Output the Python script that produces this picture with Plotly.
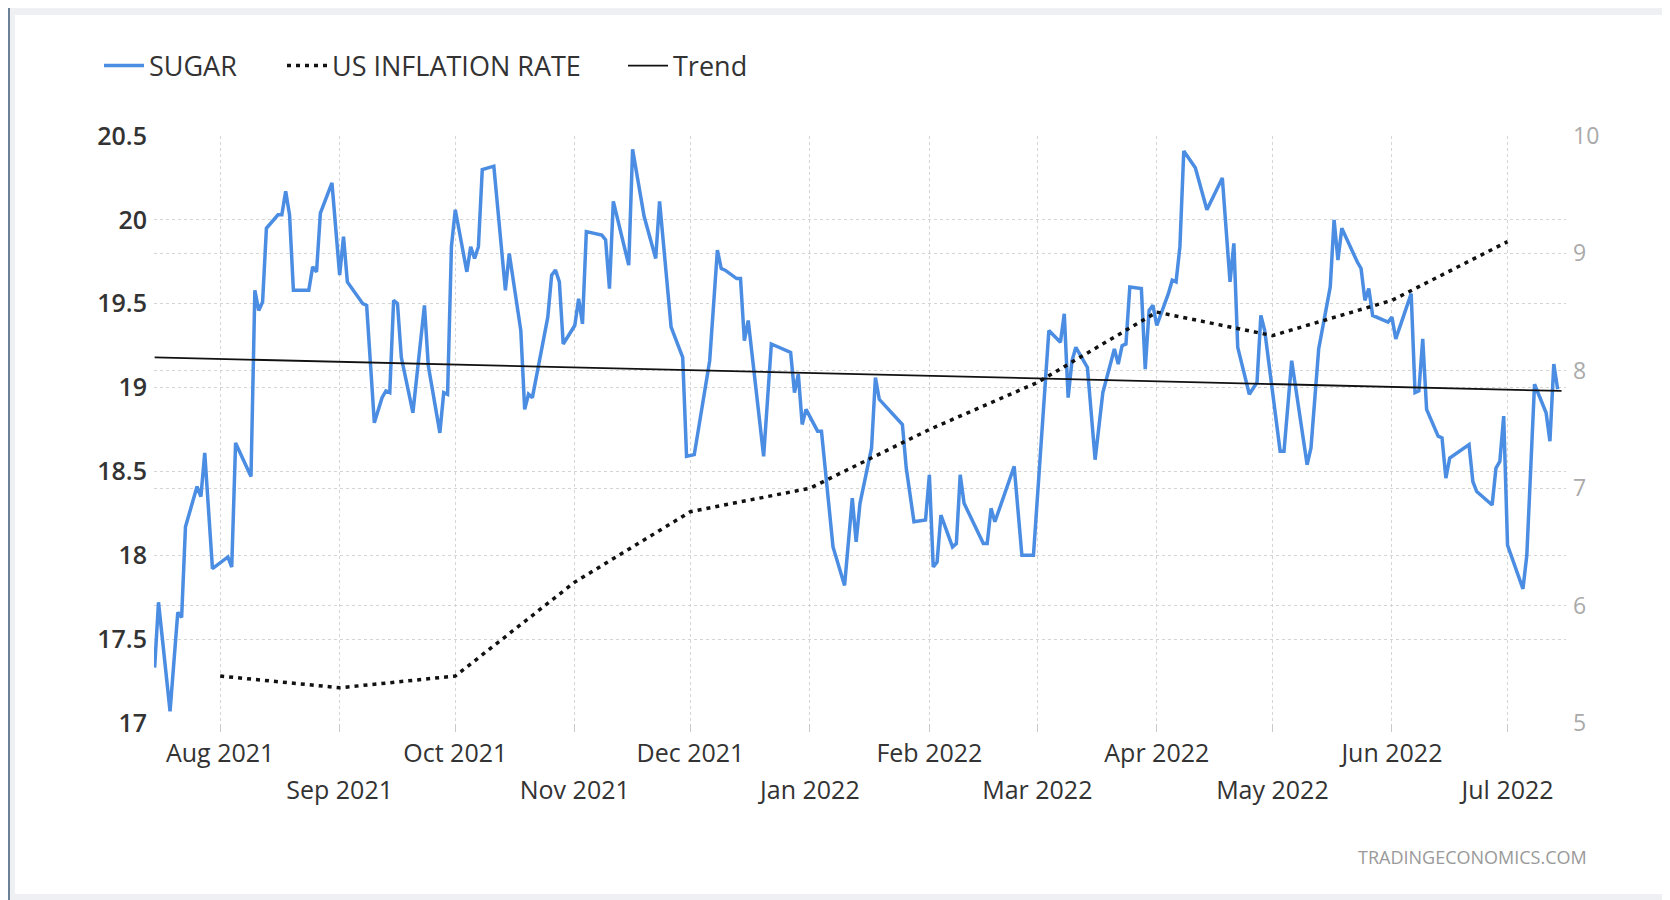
import plotly.graph_objects as go

sugar_dates = [
    "2021-07-15", "2021-07-16", "2021-07-19", "2021-07-21", "2021-07-22", "2021-07-23",
    "2021-07-26", "2021-07-27", "2021-07-28", "2021-07-30", "2021-08-03", "2021-08-04",
    "2021-08-05", "2021-08-09", "2021-08-10", "2021-08-11", "2021-08-12", "2021-08-13",
    "2021-08-16", "2021-08-17", "2021-08-18", "2021-08-19", "2021-08-20", "2021-08-24",
    "2021-08-25", "2021-08-26", "2021-08-27", "2021-08-30", "2021-09-01", "2021-09-02",
    "2021-09-03", "2021-09-07", "2021-09-08", "2021-09-10", "2021-09-12", "2021-09-13",
    "2021-09-14", "2021-09-15", "2021-09-16", "2021-09-17", "2021-09-20", "2021-09-23",
    "2021-09-24", "2021-09-27", "2021-09-28", "2021-09-29", "2021-09-30", "2021-10-01",
    "2021-10-04", "2021-10-05", "2021-10-06", "2021-10-07", "2021-10-08", "2021-10-11",
    "2021-10-14", "2021-10-15", "2021-10-18", "2021-10-19", "2021-10-20", "2021-10-21",
    "2021-10-25", "2021-10-26", "2021-10-27", "2021-10-28", "2021-10-29", "2021-11-01",
    "2021-11-02", "2021-11-03", "2021-11-04", "2021-11-08", "2021-11-09", "2021-11-10",
    "2021-11-11", "2021-11-15", "2021-11-16", "2021-11-19", "2021-11-22", "2021-11-23",
    "2021-11-26", "2021-11-29", "2021-11-30", "2021-12-02", "2021-12-06", "2021-12-08",
    "2021-12-09", "2021-12-10", "2021-12-13", "2021-12-14", "2021-12-15", "2021-12-16",
    "2021-12-20", "2021-12-22", "2021-12-27", "2021-12-28", "2021-12-29", "2021-12-30",
    "2021-12-31", "2022-01-03", "2022-01-04", "2022-01-05", "2022-01-07", "2022-01-10",
    "2022-01-12", "2022-01-13", "2022-01-14", "2022-01-17", "2022-01-18", "2022-01-19",
    "2022-01-25", "2022-01-26", "2022-01-28", "2022-01-31", "2022-02-01", "2022-02-02",
    "2022-02-03", "2022-02-04", "2022-02-07", "2022-02-08", "2022-02-09", "2022-02-10",
    "2022-02-15", "2022-02-16", "2022-02-17", "2022-02-18", "2022-02-23", "2022-02-25",
    "2022-02-28", "2022-03-04", "2022-03-07", "2022-03-08", "2022-03-09", "2022-03-10",
    "2022-03-11", "2022-03-14", "2022-03-16", "2022-03-18", "2022-03-21", "2022-03-22",
    "2022-03-23", "2022-03-24", "2022-03-25", "2022-03-28", "2022-03-29", "2022-03-30",
    "2022-03-31", "2022-04-01", "2022-04-04", "2022-04-05", "2022-04-06", "2022-04-07",
    "2022-04-08", "2022-04-11", "2022-04-14", "2022-04-18", "2022-04-20", "2022-04-21",
    "2022-04-22", "2022-04-25", "2022-04-27", "2022-04-28", "2022-04-29", "2022-05-03",
    "2022-05-04", "2022-05-06", "2022-05-10", "2022-05-11", "2022-05-13", "2022-05-16",
    "2022-05-17", "2022-05-18", "2022-05-19", "2022-05-23", "2022-05-24", "2022-05-25",
    "2022-05-26", "2022-05-27", "2022-05-31", "2022-06-01", "2022-06-02", "2022-06-06",
    "2022-06-07", "2022-06-08", "2022-06-09", "2022-06-10", "2022-06-13", "2022-06-14",
    "2022-06-15", "2022-06-16", "2022-06-21", "2022-06-22", "2022-06-23", "2022-06-27",
    "2022-06-28", "2022-06-29", "2022-06-30", "2022-07-01", "2022-07-05", "2022-07-06",
    "2022-07-08", "2022-07-11", "2022-07-12", "2022-07-13", "2022-07-14",
]
sugar_values = [
    17.33, 17.72, 17.07, 17.66, 17.63, 18.17,
    18.41, 18.35, 18.61, 17.92, 17.99, 17.93,
    18.67, 18.47, 19.58, 19.46, 19.51, 19.95,
    20.03, 20.03, 20.17, 20.03, 19.58, 19.58,
    19.72, 19.69, 20.04, 20.22, 19.67, 19.90,
    19.63, 19.50, 19.49, 18.79, 18.94, 18.98,
    18.97, 19.52, 19.50, 19.18, 18.85, 19.49,
    19.13, 18.73, 18.97, 18.96, 19.84, 20.06,
    19.69, 19.84, 19.77, 19.84, 20.30, 20.32,
    19.58, 19.80, 19.34, 18.87, 18.96, 18.94,
    19.42, 19.67, 19.70, 19.63, 19.26, 19.37,
    19.53, 19.38, 19.93, 19.91, 19.88, 19.59,
    20.11, 19.73, 20.42, 20.02, 19.77, 20.11,
    19.36, 19.18, 18.59, 18.60, 19.16, 19.82,
    19.71, 19.70, 19.65, 19.65, 19.28, 19.40,
    18.59, 19.26, 19.21, 18.97, 19.08, 18.78,
    18.87, 18.74, 18.74, 18.52, 18.05, 17.82,
    18.34, 18.08, 18.31, 18.64, 19.06, 18.93,
    18.78, 18.52, 18.20, 18.21, 18.48, 17.93,
    17.96, 18.24, 18.05, 18.07, 18.48, 18.31,
    18.07, 18.07, 18.28, 18.20, 18.53, 18.00,
    18.00, 19.34, 19.27, 19.44, 18.94, 19.16,
    19.24, 19.12, 18.57, 18.97, 19.23, 19.14,
    19.25, 19.26, 19.60, 19.59, 19.11, 19.46,
    19.49, 19.37, 19.56, 19.64, 19.63, 19.84,
    20.41, 20.31, 20.06, 20.25, 19.63, 19.86,
    19.24, 18.96, 19.03, 19.43, 19.34, 18.62,
    18.62, 19.16, 18.54, 18.64, 19.23, 19.60,
    20.00, 19.76, 19.95, 19.75, 19.71, 19.52,
    19.59, 19.43, 19.39, 19.42, 19.29, 19.56,
    18.97, 18.98, 19.29, 18.87, 18.71, 18.70,
    18.46, 18.58, 18.66, 18.44, 18.38, 18.30,
    18.52, 18.56, 18.83, 18.06, 17.80, 18.00,
    19.02, 18.85, 18.68, 19.14, 18.99,
]

inflation_dates = ["2021-08-01", "2021-09-01", "2021-10-01", "2021-11-01", "2021-12-01", "2022-01-01",
                   "2022-02-01", "2022-03-01", "2022-04-01", "2022-05-01", "2022-06-01", "2022-07-01"]
inflation_values = [5.4, 5.3, 5.4, 6.2, 6.8, 7.0, 7.5, 7.9, 8.5, 8.3, 8.6, 9.1]

trend_dates = ["2021-07-15", "2022-07-15"]
trend_values = [19.18, 18.98]

# month ticks are split into two label rows like the original
row1_ticks = ["2021-08-01", "2021-10-01", "2021-12-01", "2022-02-01", "2022-04-01", "2022-06-01"]
row1_labels = ["Aug 2021", "Oct 2021", "Dec 2021", "Feb 2022", "Apr 2022", "Jun 2022"]
row2_ticks = ["2021-09-01", "2021-11-01", "2022-01-01", "2022-03-01", "2022-05-01", "2022-07-01"]
row2_labels = ["Sep 2021", "Nov 2021", "Jan 2022", "Mar 2022", "May 2022", "Jul 2022"]

left_ticks = [17, 17.5, 18, 18.5, 19, 19.5, 20, 20.5]
left_labels = ["17", "17.5", "18", "18.5", "19", "19.5", "20", "20.5"]
right_ticks = [5, 6, 7, 8, 9, 10]

# page body has an 8px default margin, so the figure is 8px smaller and shifted
W, H = 1662, 892
L, R, T, B = 146, 104, 128, 177
PW, PH = W - L - R, H - T - B


def px_x(px):
    return (px - L) / PW


def px_y(py):
    return (H - B - py) / PH


FONT = "Open Sans"
x_range = ["2021-07-14 20:00", "2022-07-16 04:00"]

fig = go.Figure()
fig.add_trace(go.Scatter(x=sugar_dates, y=sugar_values, name="SUGAR", mode="lines",
                         legend="legend", line=dict(color="#4a8de2", width=3.5)))
fig.add_trace(go.Scatter(x=inflation_dates, y=inflation_values, name="US INFLATION RATE",
                         mode="lines", yaxis="y2", legend="legend2",
                         line=dict(color="#111111", width=3.5, dash="4px,5px")))
fig.add_trace(go.Scatter(x=trend_dates, y=trend_values, name="Trend", mode="lines",
                         xaxis="x2", legend="legend3", line=dict(color="#111111", width=1.8)))

grid = dict(showgrid=True, gridcolor="#d4d4d4", griddash="dot", gridwidth=1, zeroline=False)
leg = dict(orientation="h", xref="container", yref="container", y=1 - 58 / H,
           xanchor="left", yanchor="middle", itemwidth=40,
           font=dict(size=27, color="#333333"), bgcolor="rgba(0,0,0,0)")

fig.update_layout(
    width=W, height=H,
    margin=dict(l=L, r=R, t=T, b=B),
    paper_bgcolor="#eef0f3",
    plot_bgcolor="rgba(0,0,0,0)",
    font=dict(family=FONT, color="#333333"),
    showlegend=True,
    legend=dict(leg, x=91 / W),
    legend2=dict(leg, x=274 / W),
    legend3=dict(leg, x=615 / W),
    xaxis=dict(type="date", range=x_range, tickvals=row1_ticks, ticktext=row1_labels,
               ticks="outside", ticklen=8, tickcolor="#c8c8c8",
               tickfont=dict(size=25, color="#333333"), ticklabelstandoff=0,
               showline=False, **grid),
    xaxis2=dict(type="date", range=x_range, overlaying="x", anchor="y", side="bottom",
                tickvals=row2_ticks, ticktext=row2_labels,
                ticks="outside", ticklen=8, tickcolor="#c8c8c8",
                tickfont=dict(size=25, color="#333333"), ticklabelstandoff=37,
                showline=False, **grid),
    yaxis=dict(range=[17, 20.5], tickvals=left_ticks, ticktext=left_labels,
               tickfont=dict(size=25, color="#333333", weight=600), ticklabelstandoff=6,
               showline=False, **grid),
    yaxis2=dict(range=[5, 10], tickvals=right_ticks, overlaying="y", side="right",
                tickfont=dict(size=23, color="#aaaaaa"), ticklabelstandoff=6,
                showline=False, **grid),
    shapes=[
        dict(type="rect", xref="paper", yref="paper", layer="below",
             x0=px_x(0.5), x1=px_x(1700), y0=px_y(920), y1=px_y(-2.5),
             line=dict(color="#6c8197", width=3), fillcolor="#eef0f3"),
        dict(type="rect", xref="paper", yref="paper", layer="below",
             x0=px_x(7), x1=px_x(1700), y0=px_y(886), y1=px_y(7),
             line=dict(width=0), fillcolor="#ffffff"),
    ],
    annotations=[
        dict(text="TRADINGECONOMICS.COM", xref="paper", yref="paper",
             x=px_x(1581), y=px_y(849), xanchor="right", yanchor="middle",
             showarrow=False, font=dict(size=18, color="#999999", family=FONT)),
    ],
)

fig.write_html("out.html")
